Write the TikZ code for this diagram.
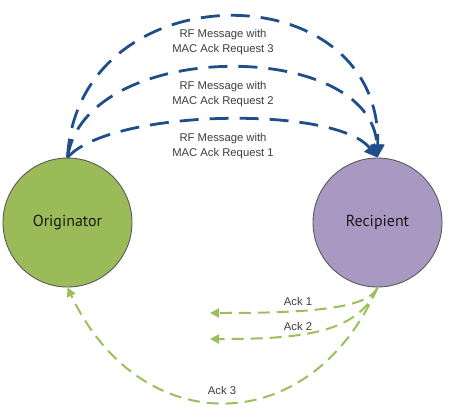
\documentclass[tikz,border=0pt]{standalone}
\usepackage{fontspec}
\setmainfont{Liberation Sans}
\newfontfamily\circfont{PT Sans}
\usetikzlibrary{arrows.meta}

\definecolor{origgreen}{HTML}{9BBB59}
\definecolor{recippurple}{HTML}{A898C2}
\definecolor{msgblue}{HTML}{1F4E8A}
\definecolor{ackgreen}{HTML}{9BBF5C}
\definecolor{labelgray}{HTML}{3C3C3C}

\tikzset{
    station/.style={circle, draw=black!65, line width=0.9bp, minimum size=129bp,
        inner sep=0pt, font=\circfont\fontsize{16}{19}\selectfont, text=black!90},
    rfmsg/.style={draw=msgblue, line width=2.8bp, dash pattern=on 19bp off 11bp,
        -{Triangle[length=13bp,width=13bp]}},
    ackmsg/.style={draw=ackgreen, line width=2bp, dash pattern=on 12bp off 7bp,
        -{Triangle[length=9bp,width=9bp]}},
    msglabel/.style={align=center, text=labelgray, inner sep=0pt,
        font=\fontsize{11.3}{14.5}\selectfont},
}

\begin{document}
\begin{tikzpicture}[x=1bp, y=-1bp]
    \useasboundingbox (0,0) rectangle (450,417);

    % die beiden Stationen
    \node[station, fill=origgreen] (orig) at (67.5,222.5) {Originator};
    \node[station, fill=recippurple] (recip) at (377.5,222.5) {Recipient};

    % RF Nachrichten (blau, gestrichelt)
    \draw[rfmsg] (orig.north) .. controls (78,-30) and (382,-30) .. (recip.north);
    \node[msglabel] (rf3) at (223,42) {RF Message with\\MAC Ack Request 3};

    \draw[rfmsg] (orig.north) .. controls (85,38) and (372,38) .. (recip.north);
    \node[msglabel] (rf2) at (223,94) {RF Message with\\MAC Ack Request 2};

    \draw[rfmsg] (orig.north) .. controls (110,109) and (335,105) .. (recip.north);
    \node[msglabel] (rf1) at (223,146) {RF Message with\\MAC Ack Request 1};

    % Acks (gruen, gestrichelt)
    \coordinate (ack1end) at (210,313);
    \coordinate (ack2end) at (210,339);

    \draw[ackmsg] (recip.south) .. controls (368,310) and (300,313) .. (ack1end);
    \node[msglabel] (ack1) at (298,301) {Ack 1};

    \draw[ackmsg] (recip.south) .. controls (358,334) and (300,339) .. (ack2end);
    \node[msglabel] (ack2) at (298,326) {Ack 2};

    \draw[ackmsg] (recip.south) .. controls (310,441) and (140,441) .. (orig.south);
    \node[msglabel] (ack3) at (222,390) {Ack 3};
\end{tikzpicture}
\end{document}
